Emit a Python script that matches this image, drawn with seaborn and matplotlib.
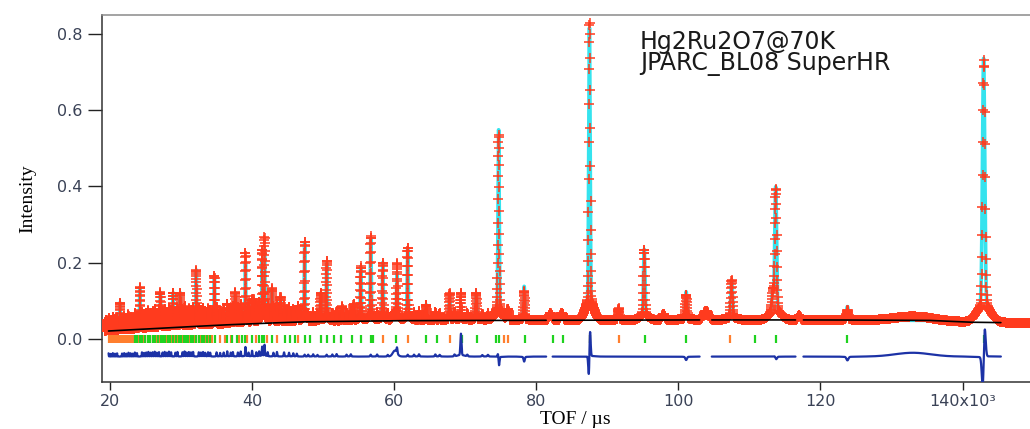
import numpy as np
import pandas as pd
import matplotlib
matplotlib.use("Agg")
import matplotlib.pyplot as plt
import seaborn as sns

# background (black line)
bg_tof = [19.8, 25, 30, 35, 40, 47, 60, 80, 100, 120, 135, 139, 141, 145.4]
bg_val = [0.021, 0.026, 0.031, 0.036, 0.040, 0.045, 0.048, 0.049, 0.050, 0.050, 0.049, 0.046, 0.044, 0.043]

# resolved reflections: position (us x1e3), observed top, calculated top, calc position offset
peak_pos = [21.4, 24.2, 27.1, 28.9, 29.9, 32.15, 34.7, 37.65, 39.07, 40.2, 41.42, 41.75, 42.8, 44.0,
            46.5, 47.4, 49.66, 50.5, 52.7, 54.3, 55.3, 56.7, 58.4, 60.4, 61.9, 64.5, 67.8, 69.4,
            71.55, 74.7, 78.3, 87.5, 91.6, 95.2, 101.1, 107.5, 113.3, 113.7, 123.8, 143.0]
peak_obs = [0.095, 0.135, 0.12, 0.12, 0.12, 0.18, 0.165, 0.12, 0.225, 0.10, 0.225, 0.26, 0.13, 0.11,
            0.085, 0.255, 0.12, 0.205, 0.085, 0.09, 0.19, 0.27, 0.20, 0.19, 0.24, 0.09, 0.12, 0.12,
            0.12, 0.535, 0.125, 0.83, 0.08, 0.235, 0.115, 0.155, 0.11, 0.39, 0.075, 0.73]
peak_calc = [0.095, 0.135, 0.12, 0.12, 0.12, 0.18, 0.165, 0.12, 0.20, 0.10, 0.20, 0.23, 0.13, 0.11,
             0.085, 0.25, 0.12, 0.20, 0.085, 0.09, 0.19, 0.265, 0.20, 0.175, 0.235, 0.09, 0.12, 0.06,
             0.12, 0.548, 0.138, 0.815, 0.08, 0.235, 0.124, 0.155, 0.11, 0.395, 0.085, 0.735]
peak_shift = [0, 0, 0, 0, 0, 0, 0, 0, 0, 0, 0, 0, 0, 0,
              0, 0, 0, 0, 0, 0, 0, 0, 0, 0, 0, 0, 0, 0,
              0, 0.004, 0, -0.012, 0, 0, 0, 0, 0, 0.002, 0, -0.03]

# broader, flat topped features (fitted)
broad_pos = [76.0, 82.0, 83.6, 97.9, 103.9, 117.0]
broad_amp = [0.03, 0.018, 0.02, 0.016, 0.024, 0.012]
broad_sig = [0.15, 0.2, 0.2, 0.2, 0.35, 0.2]

# humps present in the data but not in the fit
hump_pos = [60.1, 133.0]
hump_amp = [0.015, 0.010]
hump_sig = [0.3, 2.5]

# dense weak reflections at short TOF (height above background)
minor_pos = [19.5, 19.8, 20.1, 20.4, 20.7, 21.0, 21.7, 22.0, 22.3, 22.6, 22.9, 23.2, 23.5, 23.8,
             24.5, 24.8, 25.1, 25.4, 25.7, 26.0, 26.3, 26.6, 26.9, 27.4, 27.7, 28.0, 28.3, 28.6, 29.2, 29.5,
             30.2, 30.5, 30.8, 31.1, 31.4, 31.7, 32.5, 32.8, 33.1, 33.4, 33.8, 34.1, 35.0, 35.5, 36.0, 36.5,
             37.0, 37.3, 38.0, 38.4, 39.5, 40.0, 40.6, 41.0, 42.2, 43.0, 43.5, 44.5, 45.2, 45.8, 46.3,
             47.9, 48.6, 49.2, 51.3, 51.9, 53.3, 53.9, 57.6, 59.1, 62.8, 63.5, 65.8, 66.4, 68.5, 70.3, 72.4, 73.2]
minor_amp = [0.030, 0.034, 0.028, 0.036, 0.030, 0.034, 0.032, 0.036, 0.030, 0.040, 0.034, 0.030, 0.042, 0.036,
             0.044, 0.038, 0.042, 0.048, 0.040, 0.044, 0.050, 0.040, 0.046, 0.042, 0.048, 0.040, 0.050, 0.044, 0.040, 0.048,
             0.044, 0.052, 0.040, 0.046, 0.042, 0.048, 0.044, 0.040, 0.046, 0.038, 0.044, 0.040, 0.044, 0.038, 0.042, 0.055,
             0.040, 0.046, 0.042, 0.052, 0.040, 0.060, 0.044, 0.052, 0.044, 0.040, 0.048, 0.044, 0.040, 0.034, 0.030,
             0.020, 0.024, 0.018, 0.022, 0.026, 0.020, 0.024, 0.022, 0.018, 0.020, 0.024, 0.022, 0.018, 0.020, 0.018, 0.016, 0.018]
minor_calc_ratio = 0.75

# reflection tick marks
ticks_phase1 = [19.9, 20.15, 20.4, 20.65, 20.9, 21.15, 21.4, 21.65, 21.9, 22.15, 22.4, 22.65, 22.9, 23.15,
                23.4, 23.7, 24.0, 24.35, 24.7, 25.0, 25.3, 25.65, 26.0, 26.3, 26.6, 26.95, 27.3, 27.6,
                27.9, 28.25, 28.6, 28.9, 29.2, 29.55, 29.9, 30.2, 30.5, 30.85, 31.2, 31.5, 31.8, 32.15,
                32.5, 32.8, 33.1, 33.45, 33.8, 34.4, 35.5, 36.2, 37.0, 38.2, 39.3, 40.6, 42.1, 43.5,
                46.4, 58.4, 61.9, 67.8, 69.4, 75.5, 76.0, 87.5, 91.6, 107.3]
ticks_phase2 = [23.5, 23.85, 24.2, 24.55, 24.9, 25.3, 25.7, 26.05, 26.4, 26.8, 27.15, 27.5, 27.8, 28.15,
                28.5, 28.9, 29.3, 29.65, 30.0, 30.35, 30.75, 31.05, 31.35, 31.7, 32.15, 32.5, 32.9, 33.3,
                33.7, 34.1, 34.8, 36.5, 37.2, 37.9, 38.6, 39.07, 40.0, 40.95, 41.42, 41.7, 42.8, 44.7,
                45.4, 46.0, 47.4, 48.2, 49.7, 50.5, 51.5, 52.5, 54.1, 55.3, 56.7, 57.0, 60.3, 64.5,
                66.1, 69.6, 71.6, 74.4, 74.7, 78.4, 82.4, 83.8, 87.5, 95.3, 101.1, 110.8, 113.7, 123.7, 143.0]
tick_row = (-0.0105, 0.0097)

# ranges
obs_range = (19.3, 149.5)
fit_range = (19.8, 145.4)
excluded = [(81.4, 82.3), (103.0, 104.7), (116.5, 117.6)]
diff_offset = -0.046

x_tick_vals = [20, 40, 60, 80, 100, 120, 140]
x_tick_labels = ["20", "40", "60", "80", "100", "120", "140x10³"]
y_tick_vals = [0.0, 0.2, 0.4, 0.6, 0.8]
y_tick_labels = ["0.0", "0.2", "0.4", "0.6", "0.8"]

TAIL = 0.075  # weight of the broad foot under each peak


def profile(t, pos, amp, shift=None):
    out = np.zeros_like(t)
    if shift is None:
        shift = [0] * len(pos)
    for p, a, d in zip(pos, amp, shift):
        s = 0.0011 * p
        c = p + d
        shape = np.exp(-0.5 * ((t - c) / s) ** 2) + TAIL * np.exp(-0.5 * ((t - c) / (6 * s)) ** 2)
        out += a * shape / (1 + TAIL)
    return out


def gauss(t, pos, amp, sig):
    out = np.zeros_like(t)
    for p, a, s in zip(pos, amp, sig):
        out += a * np.exp(-0.5 * ((t - p) / s) ** 2)
    return out


def observed(t):
    b = np.interp(t, bg_tof, bg_val)
    return (b + profile(t, peak_pos, amp_obs) + gauss(t, broad_pos, broad_amp, broad_sig)
            + gauss(t, hump_pos, hump_amp, hump_sig) + profile(t, minor_pos, minor_amp))


def calculated(t):
    b = np.interp(t, bg_tof, bg_val)
    return (b + profile(t, peak_pos, amp_calc, peak_shift) + gauss(t, broad_pos, broad_amp, broad_sig)
            + profile(t, minor_pos, np.array(minor_amp) * minor_calc_ratio))


bg_at = np.interp(peak_pos, bg_tof, bg_val)
amp_obs = np.array(peak_obs) - bg_at
amp_calc = np.array(peak_calc) - bg_at

# observed points (TOF channels)
tof = np.geomspace(obs_range[0], obs_range[1], 8200)
obs_df = pd.DataFrame({"tof": tof, "obs": observed(tof)})

# calc, background and difference only exist inside the fitted range
tof_fit = np.geomspace(fit_range[0], fit_range[1], 30000)
obs_f = observed(tof_fit)
calc_f = calculated(tof_fit)
edges = np.array(excluded).ravel()
seg = np.searchsorted(edges, tof_fit)
fit = pd.DataFrame({"tof": tof_fit, "calc": calc_f, "bg": np.interp(tof_fit, bg_tof, bg_val),
                    "diff": obs_f - calc_f + diff_offset, "seg": seg})[seg % 2 == 0]

sns.set_theme(style="ticks")
plt.rcParams["font.family"] = ["DejaVu Sans"]

fig = plt.figure(figsize=(10.30, 4.29), dpi=100)
ax = fig.add_axes([0.0987, 0.1096, 0.9013, 0.855])

sns.lineplot(data=fit, x="tof", y="calc", units="seg", estimator=None, sort=False,
             color="#35e3ee", linewidth=2.6, ax=ax, zorder=2)
sns.scatterplot(data=obs_df, x="tof", y="obs", marker="+", s=42, color="#ff3b1e",
                linewidth=1.1, ax=ax, zorder=3)
sns.lineplot(data=fit, x="tof", y="bg", units="seg", estimator=None, sort=False,
             color="black", linewidth=1.2, ax=ax, zorder=4)
ax.vlines(ticks_phase1, tick_row[0], tick_row[1], color="#ff7f2e", linewidth=1.6, zorder=4)
ax.vlines(ticks_phase2, tick_row[0], tick_row[1], color="#1fd21f", linewidth=1.6, zorder=5)
sns.lineplot(data=fit, x="tof", y="diff", units="seg", estimator=None, sort=False,
             color="#1c32a6", linewidth=1.6, ax=ax, zorder=6)

ax.set_xlim(18.83, 149.5)
ax.set_ylim(-0.1125, 0.848)
ax.set_xticks(x_tick_vals)
ax.set_xticklabels(x_tick_labels)
ax.set_yticks(y_tick_vals)
ax.set_yticklabels(y_tick_labels)
ax.tick_params(axis="y", length=10, width=1.0, pad=4, labelsize=11.5, labelcolor="#3a4256", color="#222222")
ax.tick_params(axis="x", length=5.5, width=1.0, pad=3, labelsize=11.5, labelcolor="#3a4256", color="#222222")

ax.spines["right"].set_visible(False)
ax.spines["left"].set_color("#333333")
ax.spines["bottom"].set_color("#333333")
ax.spines["top"].set_color("#8a8a8a")
for s in ["left", "bottom", "top"]:
    ax.spines[s].set_linewidth(1.1)

ax.set_ylabel("Intensity", family="Liberation Serif", fontsize=14, color="black")
ax.set_xlabel("TOF / µs", family="Liberation Serif", fontsize=14, color="black")
ax.yaxis.set_label_coords(-0.070, 0.5)
ax.xaxis.set_label_coords(0.51, -0.079)

ax.text(0.58, 0.909, "Hg2Ru2O7@70K", transform=ax.transAxes, fontsize=17, color="#1a1a1a",
        va="baseline", ha="left")
ax.text(0.58, 0.850, "JPARC_BL08 SuperHR", transform=ax.transAxes, fontsize=17, color="#1a1a1a",
        va="baseline", ha="left")

fig.savefig("out.png", dpi=100)
